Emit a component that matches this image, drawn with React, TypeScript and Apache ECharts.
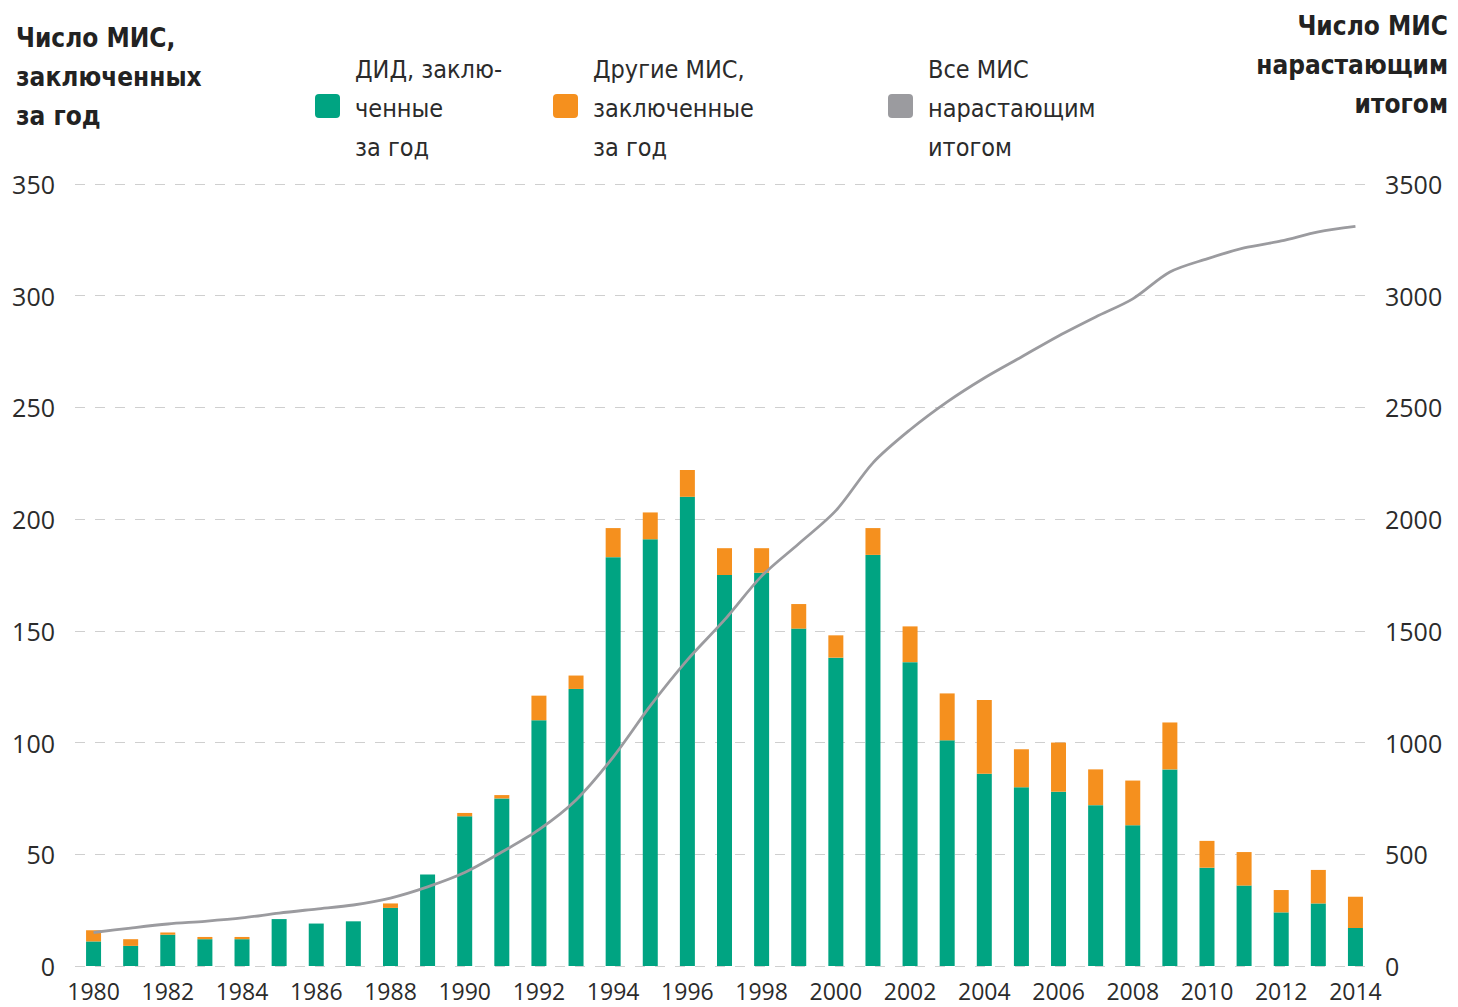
import React, { useEffect, useRef } from "react";
import * as echarts from "echarts";

const years = [
  "1980", "1981", "1982", "1983", "1984", "1985", "1986", "1987", "1988", "1989",
  "1990", "1991", "1992", "1993", "1994", "1995", "1996", "1997", "1998", "1999",
  "2000", "2001", "2002", "2003", "2004", "2005", "2006", "2007", "2008", "2009",
  "2010", "2011", "2012", "2013", "2014",
];
const bitValues = [
  11, 9, 14, 12, 12, 21, 19, 20, 26, 41,
  67, 75, 110, 124, 183, 191, 210, 175, 176, 151,
  138, 184, 136, 101, 86, 80, 78, 72, 63, 88,
  44, 36, 24, 28, 17,
];
const otherValues = [
  5, 3, 1, 1, 1, 0, 0, 0, 2, 0,
  1.5, 1.5, 11, 6, 13, 12, 12, 12, 11, 11,
  10, 12, 16, 21, 33, 17, 22, 16, 20, 21,
  12, 15, 10, 15, 14,
];
const cumulativeValues = [
  150, 170, 188, 200, 215, 237, 255, 273, 304, 354,
  418, 510, 610, 743, 935, 1164, 1370, 1549, 1745, 1890,
  2038, 2252, 2400, 2525, 2632, 2726, 2820, 2905, 2986, 3106,
  3165, 3214, 3245, 3286, 3310,
];
const leftTicks = { min: 0, max: 350, interval: 50 };
const rightTicks = { min: 0, max: 3500, interval: 500 };

const leftTitle = ["Число МИС,", "заключенных", "за год"];
const rightTitle = ["Число МИС", "нарастающим", "итогом"];
const legendItems = [
  { lines: ["ДИД, заклю-", "ченные", "за год"], color: "#00a482" },
  { lines: ["Другие МИС,", "заключенные", "за год"], color: "#f5901e" },
  { lines: ["Все МИС", "нарастающим", "итогом"], color: "#9b9b9f" },
];

const GREEN = "#00a482";
const ORANGE = "#f5901e";
const GREY = "#9b9b9f";
const COND =
  "'Liberation Sans Narrow','DejaVu Sans Condensed','Roboto Condensed','Open Sans Condensed','Noto Sans',sans-serif";
const TICKFONT = "'Open Sans','Noto Sans',sans-serif";

export default function App() {
  const ref = useRef<HTMLDivElement>(null);
  useEffect(() => {
    if (!ref.current) return;
    const chart = echarts.init(ref.current, null, { renderer: "svg" });

    const graphics: any[] = [];
    leftTitle.forEach((t, i) => {
      graphics.push({
        type: "text",
        left: 16,
        top: 25 + i * 39,
        style: { text: t, font: `bold 26px ${COND}`, fill: "#222" },
      });
    });
    rightTitle.forEach((t, i) => {
      graphics.push({
        type: "text",
        right: 10,
        top: 13 + i * 39,
        style: { text: t, font: `bold 26px ${COND}`, fill: "#222", textAlign: "right" },
      });
    });
    const legendX = [315, 553, 888];
    legendItems.forEach((it, k) => {
      graphics.push({
        type: "rect",
        left: legendX[k],
        top: 94,
        shape: { width: 25, height: 24, r: 4 },
        style: { fill: it.color },
      });
      it.lines.forEach((t, i) => {
        graphics.push({
          type: "text",
          left: legendX[k] + 40,
          top: 57 + i * 39,
          style: { text: t, font: `25px ${COND}`, fill: "#2b2b2b" },
        });
      });
    });

    chart.setOption({
      animation: false,
      backgroundColor: "#ffffff",
      grid: { left: 75, right: 84, top: 184, bottom: 41 },
      graphic: graphics,
      xAxis: {
        type: "category",
        data: years,
        boundaryGap: true,
        axisLine: { show: false },
        axisTick: { show: false },
        axisLabel: {
          interval: 1,
          margin: 13,
          color: "#2b2b2b",
          fontSize: 23,
          fontFamily: TICKFONT,
        },
      },
      yAxis: [
        {
          type: "value",
          min: leftTicks.min,
          max: leftTicks.max,
          interval: leftTicks.interval,
          axisLine: { show: false },
          axisTick: { show: false },
          axisLabel: { margin: 20, color: "#2b2b2b", fontSize: 25, fontFamily: TICKFONT },
          splitLine: { show: true, lineStyle: { color: "#cfcfcf", type: [10, 10], width: 1.2 } },
        },
        {
          type: "value",
          min: rightTicks.min,
          max: rightTicks.max,
          interval: rightTicks.interval,
          axisLine: { show: false },
          axisTick: { show: false },
          axisLabel: {
            margin: 11,
            color: "#2b2b2b",
            fontSize: 25,
            fontFamily: TICKFONT,
            formatter: (v: number) => String(v),
          },
          splitLine: { show: false },
        },
      ],
      series: [
        {
          name: "ДИД",
          type: "bar",
          stack: "a",
          data: bitValues,
          barWidth: 15,
          itemStyle: { color: GREEN },
        },
        {
          name: "Другие",
          type: "bar",
          stack: "a",
          data: otherValues,
          barWidth: 15,
          itemStyle: { color: ORANGE },
        },
        {
          name: "Все",
          type: "line",
          yAxisIndex: 1,
          data: cumulativeValues,
          symbol: "none",
          smooth: 0.3,
          lineStyle: { color: GREY, width: 2.8 },
          z: 5,
        },
      ],
    });
    return () => chart.dispose();
  }, []);
  return (
    <div
      ref={ref}
      style={{ position: "absolute", left: 0, top: 0, width: 1458, height: 1007 }}
    />
  );
}
